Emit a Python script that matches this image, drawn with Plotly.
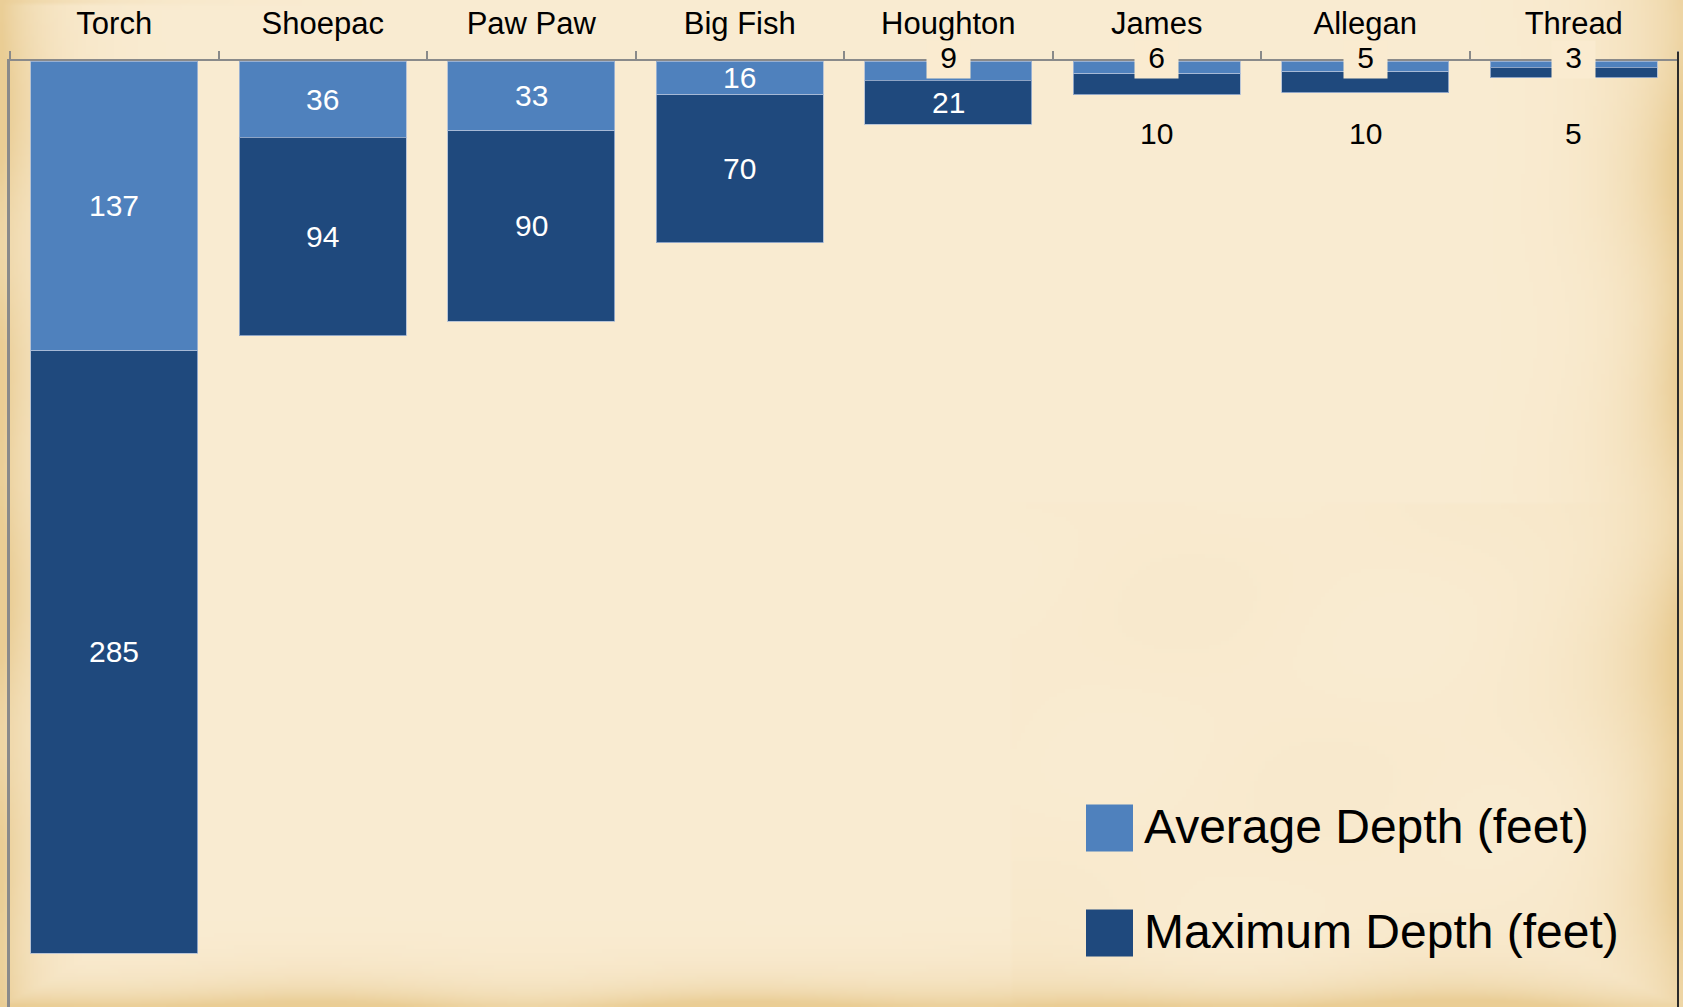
import base64
import struct
import zlib

import numpy as np
import plotly.graph_objects as go

# Lake depths in feet
lakes = ["Torch", "Shoepac", "Paw Paw", "Big Fish", "Houghton", "James", "Allegan", "Thread"]
avg_depth = [137, 36, 33, 16, 9, 6, 5, 3]
max_depth = [285, 94, 90, 70, 21, 10, 10, 5]
series_names = ["Average Depth (feet)", "Maximum Depth (feet)"]

AVG_COLOR = "#4f81bd"
MAX_COLOR = "#1f497d"
PAPER = "#faebd0"

W, H = 1683, 1007
M_L, M_R, M_T, M_B = 10, 5, 61, 0
PW, PH = W - M_L - M_R, H - M_T - M_B
Y_MAX = 447.5


def px_to_paper(px, py):
    return (px - M_L) / PW, 1 - (py - M_T) / PH


def parchment_png(w=421, h=252):
    """Smooth parchment wash: cream centre, darker tan toward the sides and bottom."""
    yy, xx = np.mgrid[0:h, 0:w].astype(float)
    u, v = xx / (w - 1), yy / (h - 1)
    d_edge = np.minimum.reduce([u * 1.3, (1 - u) * 1.1, v * 9.0 + u * 0.6, (1 - v) * 1.5])
    edge = np.exp(-d_edge / 0.03)
    mott = 0.5 + 0.5 * (np.sin(u * 23 + v * 7) * np.sin(v * 19 - u * 5))
    edge = np.clip(edge * (0.7 + 0.5 * mott) + 0.08 * mott * (u > 0.6) * (v > 0.5), 0, 1)
    centre = np.array([250, 236, 210], float)
    rim = np.array([234, 205, 148], float)
    img = centre[None, None, :] * (1 - edge[..., None]) + rim[None, None, :] * edge[..., None]
    img = img.astype(np.uint8)
    raw = b"".join(b"\x00" + row.tobytes() for row in img)

    def chunk(tag, data):
        c = struct.pack(">I", len(data)) + tag + data
        return c + struct.pack(">I", zlib.crc32(tag + data) & 0xFFFFFFFF)

    png = b"\x89PNG\r\n\x1a\n"
    png += chunk(b"IHDR", struct.pack(">IIBBBBB", w, h, 8, 2, 0, 0, 0))
    png += chunk(b"IDAT", zlib.compress(raw, 9))
    png += chunk(b"IEND", b"")
    return "data:image/png;base64," + base64.b64encode(png).decode()


fig = go.Figure()
bar_line = dict(width=1, color="rgba(170,188,215,0.8)")
fig.add_trace(go.Bar(x=lakes, y=avg_depth, name=series_names[0],
                     marker=dict(color=AVG_COLOR, line=bar_line), hoverinfo="x+y"))
fig.add_trace(go.Bar(x=lakes, y=max_depth, name=series_names[1],
                     marker=dict(color=MAX_COLOR, line=bar_line), hoverinfo="x+y"))

label_font = dict(family="Liberation Sans, Arial, sans-serif", size=30)
annotations = []
for lake, a, m in zip(lakes, avg_depth, max_depth):
    # average segment label
    if a >= 15:
        annotations.append(dict(x=lake, y=a / 2, text=str(a), showarrow=False,
                                font=dict(label_font, color="white")))
    else:
        annotations.append(dict(x=lake, y=0, text=str(a), showarrow=False, yshift=2,
                                width=43, height=37, valign="top", borderpad=0,
                                bgcolor=PAPER, font=dict(label_font, color="black")))
    # maximum segment label
    if m >= 20:
        annotations.append(dict(x=lake, y=a + m / 2, text=str(m), showarrow=False,
                                font=dict(label_font, color="white")))
    else:
        annotations.append(dict(x=lake, y=34.5, text=str(m), showarrow=False,
                                font=dict(label_font, color="black")))

# legend drawn as swatches with labels
legend_rows = [(AVG_COLOR, series_names[0], 828), (MAX_COLOR, series_names[1], 933)]
shapes = []
for color, name, cy in legend_rows:
    x0, y0 = px_to_paper(1086, cy - 23.5)
    x1, y1 = px_to_paper(1133, cy + 23.5)
    shapes.append(dict(type="rect", xref="paper", yref="paper", x0=x0, x1=x1, y0=y1, y1=y0,
                       fillcolor=color, line=dict(width=0)))
    tx, ty = px_to_paper(1142, cy - 2)
    annotations.append(dict(xref="paper", yref="paper", x=tx, y=ty, xanchor="left",
                            yanchor="middle", text=name, showarrow=False,
                            font=dict(family="Liberation Sans, Arial, sans-serif",
                                      size=48, color="black")))

# dark right-hand frame line
shapes.append(dict(type="line", xref="paper", yref="paper", x0=1, x1=1,
                   y0=0, y1=1 + 9 / PH, line=dict(color="#2b2b2b", width=2)))

fig.update_layout(
    width=W, height=H,
    margin=dict(l=M_L, r=M_R, t=M_T, b=M_B),
    barmode="stack", bargap=0.2,
    paper_bgcolor=PAPER, plot_bgcolor="rgba(0,0,0,0)",
    showlegend=False,
    annotations=annotations,
    shapes=shapes,
    images=[dict(source=parchment_png(), xref="paper", yref="paper",
                 x=-M_L / PW, y=1 + M_T / PH, sizex=W / PW, sizey=H / PH,
                 sizing="stretch", xanchor="left", yanchor="top", layer="below")],
    xaxis=dict(side="top", type="category", showline=True, linecolor="#8a8a8a", linewidth=2,
               ticks="outside", tickson="boundaries", ticklen=8, tickwidth=2, tickcolor="#8a8a8a",
               tickfont=dict(family="Liberation Sans, Arial, sans-serif", size=31, color="black"),
               ticklabelstandoff=13, showgrid=False, zeroline=False, fixedrange=True),
    yaxis=dict(range=[Y_MAX, 0], showline=True, linecolor="#8a8a8a", linewidth=3,
               showticklabels=False, ticks="", showgrid=False, zeroline=False, fixedrange=True),
)

fig.write_html("out.html")
